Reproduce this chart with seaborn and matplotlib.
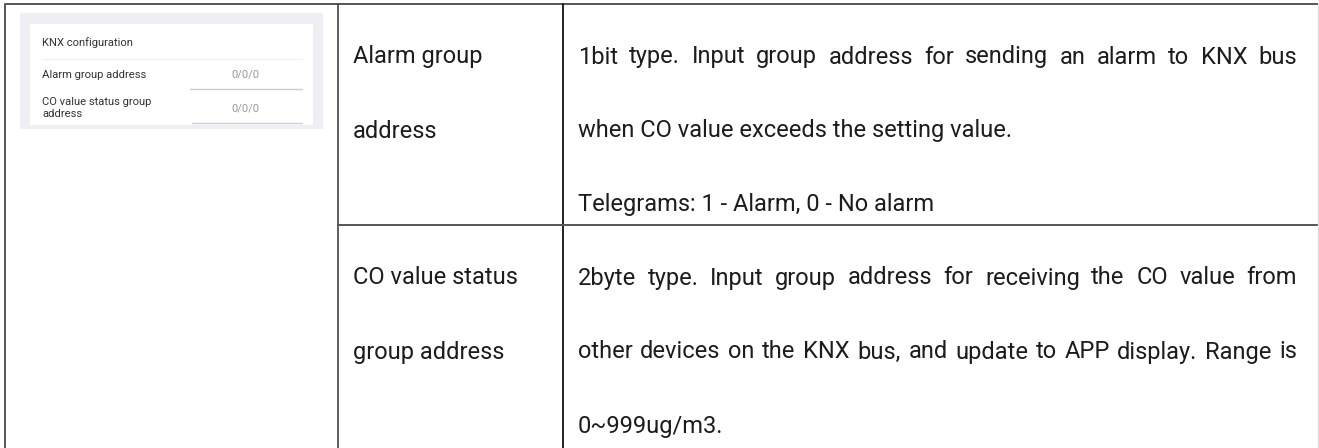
import matplotlib
matplotlib.use("Agg")
import matplotlib.pyplot as plt
import seaborn as sns

# ---- data (table content) ----
param_names = [["Alarm group", "address"],
               ["CO value status", "group address"]]
desc_lines = [
    ["1bit type. Input group address for sending an alarm to KNX bus",
     "when CO value exceeds the setting value.",
     "Telegrams: 1 - Alarm, 0 - No alarm"],
    ["2byte type. Input group address for receiving the CO value from",
     "other devices on the KNX bus, and update to APP display. Range is",
     "0~999ug/m3."],
]
justified = [[True, False, False], [True, True, False]]
panel_title = "KNX configuration"
panel_labels = [["Alarm group address"], ["CO value status group", "address"]]
panel_values = ["0/0/0", "0/0/0"]

sns.set_theme(style="white")
plt.rcParams["font.family"] = ["Roboto", "DejaVu Sans"]

W, H = 1319, 448
fig = plt.figure(figsize=(W / 100, H / 100), dpi=100)
ax = fig.add_axes([0, 0, 1, 1])
ax.set_xlim(0, W)
ax.set_ylim(H, 0)
ax.axis("off")
sns.despine(ax=ax, left=True, bottom=True)

renderer = fig.canvas.get_renderer()
FS = 17
PFS = 8.1
TXT = "#1c1c1c"

# ---- table grid ----
ax.plot([5, 1318], [4, 4], color="#555555", lw=1.4, solid_capstyle="butt")
ax.plot([5, 5], [4, H], color="#555555", lw=1.4)
ax.plot([338, 338], [4, H], color="#444444", lw=1.2)
ax.plot([563, 563], [4, H], color="#111111", lw=1.3)
ax.plot([338, 1318], [225, 225], color="#555555", lw=1.4)
ax.plot([1318, 1318], [4, H], color="#dddddd", lw=1.0)

# ---- left screenshot panel ----
ax.add_patch(plt.Rectangle((20, 13), 303, 116, facecolor="#eeeef4", edgecolor="none"))
ax.add_patch(plt.Rectangle((30, 24), 283, 101, facecolor="white", edgecolor="none"))
ax.text(42, 43, panel_title, fontsize=PFS, color="#333333", va="center", ha="left")
ax.plot([42, 302], [59, 59], color="#eeeeee", lw=0.8)
row_y = [75, 108]
for i, (labels, val) in enumerate(zip(panel_labels, panel_values)):
    if len(labels) == 1:
        ax.text(42, row_y[i], labels[0], fontsize=PFS, color="#333333", va="center")
    else:
        ax.text(42, row_y[i] - 6, labels[0], fontsize=PFS, color="#333333", va="center")
        ax.text(42, row_y[i] + 6, labels[1], fontsize=PFS, color="#333333", va="center")
    ax.text(245, row_y[i], val, fontsize=PFS, color="#9a9a9a", va="center", ha="center")
ax.plot([190, 302], [89, 89], color="#cccccc", lw=1.0)
ax.plot([192, 302], [123, 123], color="#cccccc", lw=1.0)

# ---- table text ----
row_line_y = [[57, 131, 205], [278, 352, 427]]
for r in range(2):
    for k, name in enumerate(param_names[r]):
        ax.text(353, row_line_y[r][k], name, fontsize=FS, color=TXT, va="center", ha="left")
    for k, line in enumerate(desc_lines[r]):
        y = row_line_y[r][k]
        if justified[r][k]:
            words = line.split(" ")
            ts = [ax.text(0, y, w, fontsize=FS, color=TXT, va="center", ha="left") for w in words]
            widths = [t.get_window_extent(renderer).width for t in ts]
            x0, x1 = 578, 1297
            gap = (x1 - x0 - sum(widths)) / (len(words) - 1)
            x = x0
            for t, w in zip(ts, widths):
                t.set_x(x)
                x += w + gap
        else:
            ax.text(578, y, line, fontsize=FS, color=TXT, va="center", ha="left")

fig.savefig("out.png", dpi=100, facecolor="white")
